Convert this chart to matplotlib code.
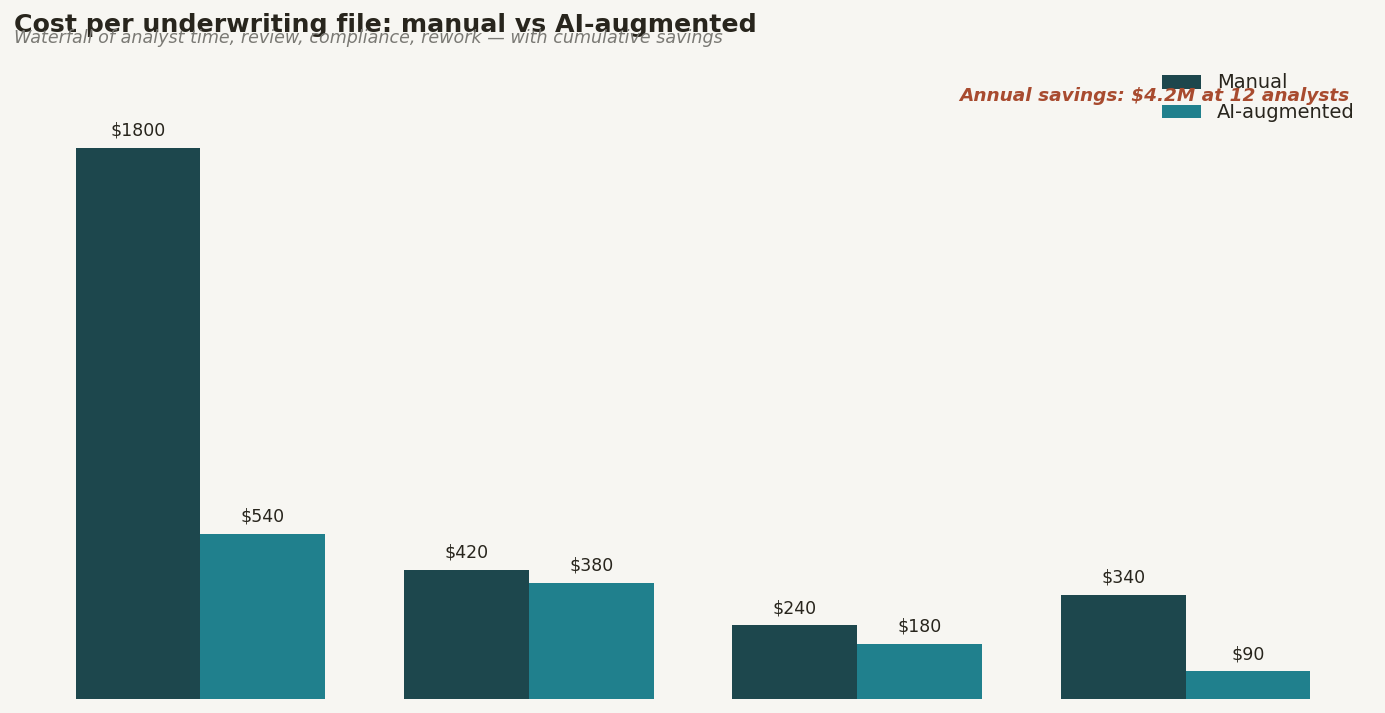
import numpy as np
import matplotlib.pyplot as plt

# Daten
categories = ["Analyst time", "Review", "Compliance", "Rework"]
manual = [1800, 420, 240, 340]
ai_augmented = [540, 380, 180, 90]

bg = "#F7F6F2"
c_manual = "#1D474D"
c_ai = "#20808D"
c_text = "#28251D"

fig = plt.figure(figsize=(13.85, 7.13), dpi=100, facecolor=bg)
ax = fig.add_axes([14 / 1385, 14 / 713, 1358 / 1385, 579 / 713], facecolor=bg)

x = np.arange(len(categories))
w = 0.38
b1 = ax.bar(x - w / 2, manual, w, color=c_manual, label="Manual")
b2 = ax.bar(x + w / 2, ai_augmented, w, color=c_ai, label="AI-augmented")

for bars in (b1, b2):
    for rect in bars:
        ax.annotate(f"${rect.get_height():.0f}",
                    (rect.get_x() + rect.get_width() / 2, rect.get_height()),
                    xytext=(0, 6), textcoords="offset points",
                    ha="center", va="bottom", fontsize=12.5, color=c_text)

ax.set_xticks([])
ax.set_yticks([])
for s in ax.spines.values():
    s.set_visible(False)

ax.legend(loc="upper right", bbox_to_anchor=(1372 / 1385, 1 - 56 / 713),
          bbox_transform=fig.transFigure, frameon=False, fontsize=14,
          handlelength=2.0, handleheight=0.7, labelspacing=0.55,
          labelcolor=c_text)

fig.text(1349 / 1385, 1 - 96 / 713, "Annual savings: $4.2M at 12 analysts",
         ha="right", va="center", fontsize=13.3, fontweight="bold",
         fontstyle="italic", color="#A84B2F")

fig.text(14 / 1385, 1 - 13 / 713, "Cost per underwriting file: manual vs AI-augmented",
         ha="left", va="top", fontsize=18.2, fontweight="bold", color=c_text)
fig.text(14 / 1385, 1 - 29 / 713,
         "Waterfall of analyst time, review, compliance, rework \u2014 with cumulative savings",
         ha="left", va="top", fontsize=12.6, fontstyle="italic", color="#7A7974")

fig.savefig("out.png", dpi=100, facecolor=bg)
